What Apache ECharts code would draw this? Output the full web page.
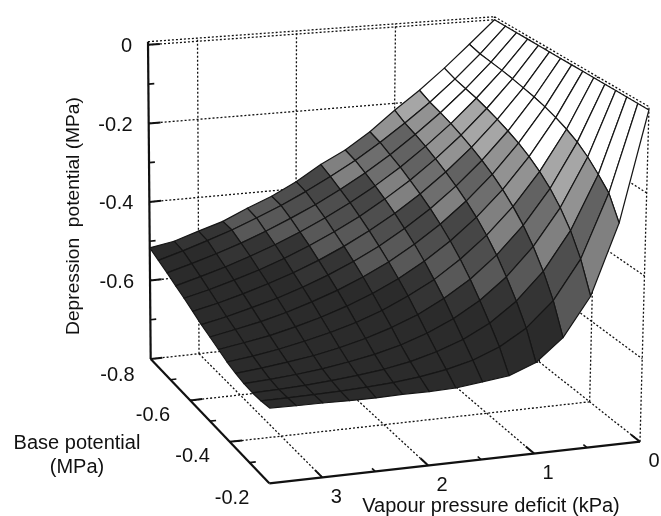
<!DOCTYPE html>
<html><head><meta charset="utf-8">
<style>html,body{margin:0;padding:0;background:#fff}#c{width:661px;height:516px}</style>
<script src="https://cdn.jsdelivr.net/npm/echarts@6/dist/echarts.min.js"></script>
</head><body><div id="c"></div>
<script>
const vpdSamples=[0,0.25,0.5,0.75,1,1.25,1.5,1.75,2,2.25,2.5,2.75,3,3.25,3.5];
const baseSamples=[-0.8,-0.757,-0.714,-0.671,-0.629,-0.586,-0.543,-0.5,-0.457,-0.414,-0.371,-0.329,-0.286,-0.243,-0.2];
const depression=[
[0,0,0,0,0,0,0,0,0,0,0,0,0,0,0],
[-.060,-.068,-.072,-.076,-.081,-.087,-.093,-.101,-.111,-.123,-.138,-.158,-.184,-.212,-.267],
[-.118,-.129,-.136,-.143,-.152,-.162,-.174,-.187,-.203,-.223,-.247,-.277,-.315,-.366,-.437],
[-.171,-.184,-.193,-.203,-.215,-.228,-.243,-.260,-.280,-.304,-.332,-.366,-.408,-.460,-.530],
[-.218,-.233,-.244,-.256,-.270,-.285,-.302,-.321,-.343,-.369,-.399,-.434,-.474,-.520,-.583],
[-.269,-.278,-.291,-.304,-.319,-.335,-.353,-.373,-.396,-.422,-.452,-.485,-.521,-.559,-.608],
[-.311,-.319,-.332,-.346,-.361,-.378,-.397,-.417,-.440,-.466,-.493,-.523,-.554,-.584,-.616],
[-.343,-.355,-.369,-.383,-.399,-.416,-.435,-.455,-.477,-.500,-.526,-.552,-.577,-.600,-.624],
[-.382,-.388,-.402,-.416,-.432,-.449,-.467,-.486,-.507,-.529,-.551,-.574,-.594,-.611,-.626],
[-.414,-.418,-.431,-.446,-.461,-.478,-.495,-.513,-.532,-.552,-.571,-.590,-.606,-.618,-.626],
[-.439,-.444,-.458,-.472,-.487,-.503,-.519,-.535,-.553,-.570,-.587,-.602,-.614,-.622,-.628],
[-.467,-.469,-.482,-.495,-.510,-.524,-.540,-.555,-.570,-.585,-.600,-.612,-.620,-.625,-.628],
[-.486,-.490,-.503,-.516,-.529,-.543,-.557,-.571,-.585,-.598,-.609,-.619,-.625,-.627,-.627],
[-.506,-.510,-.522,-.534,-.547,-.560,-.573,-.584,-.596,-.608,-.617,-.624,-.628,-.628,-.627],
[-.517,-.528,-.539,-.551,-.562,-.574,-.586,-.596,-.606,-.616,-.623,-.628,-.630,-.629,-.626]
];
const vpdTicks=[0,1,2,3];
const vpdMinor=[0.5,1.5,2.5];
const baseTicks=[-0.6,-0.4,-0.2];
const baseMinor=[-0.7,-0.5,-0.3];
const zTicks=[0,-0.2,-0.4,-0.6,-0.8];
const zMinor=[-0.1,-0.3,-0.5,-0.7];
const zBands=[-0.17,-0.21,-0.255,-0.30,-0.32,-0.355,-0.385,-0.42,-0.465,-0.50];
const bandGrays=['#ffffff','#a6a6a6','#929292','#626262','#6e6e6e','#808080','#464646','#4e4e4e','#585858','#343434','#2b2b2b'];

const VMAX=3.5,BMIN=-0.8,BMAX=-0.2,ZMIN=-0.8,ZTOP=0.008;
const floorC={A:[150.7,359],B:[269.3,483.3],C:[640,441.7],D:[489,322]};
const topC={A:[148,41.7],B:[271,134],C:[649,106.7],D:[494.5,16.7]};
function bil(q,u,v,k){
  return (1-u)*(1-v)*q.D[k]+(1-u)*v*q.C[k]+u*(1-v)*q.A[k]+u*v*q.B[k];
}
function project(vpd,base,z){
  const u=vpd/VMAX,v=(base-BMIN)/(BMAX-BMIN),w=(z-ZMIN)/(ZTOP-ZMIN);
  return [0,1].map(k=>bil(floorC,u,v,k)*(1-w)+bil(topC,u,v,k)*w);
}
function grayOf(z){
  let i=0; while(i<zBands.length && z<zBands[i]) i++;
  return bandGrays[i];
}
// surface cells
const cells=[];
for(let i=vpdSamples.length-2;i>=0;i--)for(let j=0;j<baseSamples.length-1;j++)cells.push([i,j]);
cells.sort((a,b)=>(a[0]+a[1])-(b[0]+b[1]));
// dotted box lines
const dotted=[];
const seg=(p,q)=>dotted.push([...p,...q]);
[1,2,3].forEach(t=>{seg([t,BMIN,ZMIN],[t,BMIN,ZTOP]);seg([t,BMIN,ZMIN],[t,BMAX,ZMIN]);});
[-0.4,-0.6].forEach(b=>{seg([0,b,ZMIN],[0,b,ZTOP]);seg([VMAX,b,ZMIN],[0,b,ZMIN]);});
seg([0,BMIN,ZMIN],[0,BMIN,ZTOP]);seg([0,BMAX,ZMIN],[0,BMAX,ZTOP]);
seg([VMAX,BMIN,ZMIN],[0,BMIN,ZMIN]);seg([0,BMIN,ZMIN],[0,BMAX,ZMIN]);
[ZTOP,0,-0.2,-0.4,-0.6].forEach(z=>{seg([VMAX,BMIN,z],[0,BMIN,z]);seg([0,BMIN,z],[0,BMAX,z]);});
// solid axes and ticks
const solid=[];
const sol=(p,q,wd)=>solid.push([...p,...q,wd]);
sol([VMAX,BMIN,ZMIN],[VMAX,BMIN,ZTOP],2.2);
sol([VMAX,BMIN,ZMIN],[VMAX,BMAX,ZMIN],2.2);
sol([VMAX,BMAX,ZMIN],[0,BMAX,ZMIN],2.2);
zTicks.forEach(t=>sol([VMAX,BMIN,t],[VMAX-0.12,BMIN,t],2));
zMinor.forEach(t=>sol([VMAX,BMIN,t],[VMAX-0.06,BMIN,t],1.6));
baseTicks.slice(0,2).forEach(t=>sol([VMAX,t,ZMIN],[VMAX-0.12,t,ZMIN],2));
baseMinor.forEach(t=>sol([VMAX,t,ZMIN],[VMAX-0.06,t,ZMIN],1.6));
vpdTicks.forEach(t=>sol([t,BMAX,ZMIN],[t,BMAX-0.035,ZMIN],2));
vpdMinor.forEach(t=>sol([t,BMAX,ZMIN],[t,BMAX-0.015,ZMIN],1.6));
// tick labels
const FONT='Liberation Sans';
const labels=[];
zTicks.forEach(t=>{const p=project(VMAX,BMIN,t);labels.push([t===0?'0':t.toFixed(1),p[0]-16,p[1]+(t===ZMIN?16:2),'right']);});
baseTicks.forEach(t=>{const p=project(VMAX,t,ZMIN);labels.push([t.toFixed(1),p[0]-20,p[1]+15,'right']);});
vpdTicks.forEach(t=>{const p=project(t,BMAX,ZMIN);labels.push([String(t),p[0]+14,p[1]+20,'center']);});

function lineSeries(data,dash,z){
  return {type:'custom',coordinateSystem:'cartesian2d',silent:true,clip:false,z,data,
    renderItem(params,api){
      const d=data[params.dataIndex];
      const a=api.coord(project(d[0],d[1],d[2])),b=api.coord(project(d[3],d[4],d[5]));
      return {type:'line',shape:{x1:a[0],y1:a[1],x2:b[0],y2:b[1]},
        style:{stroke:'#111',lineWidth:dash?1.3:d[6],lineDash:dash?[2,2]:null,fill:null}};
    }};
}
const option={
  animation:false,backgroundColor:'#fff',
  grid:{left:0,right:0,top:0,bottom:0},
  xAxis:{type:'value',min:0,max:661,show:false},
  yAxis:{type:'value',min:0,max:516,inverse:true,show:false},
  series:[
    lineSeries(dotted,true,1),
    lineSeries(solid,false,2),
    {type:'custom',coordinateSystem:'cartesian2d',silent:true,clip:false,z:3,data:cells,
      renderItem(params,api){
        const [i,j]=cells[params.dataIndex];
        const nodes=[[i,j],[i+1,j],[i+1,j+1],[i,j+1]];
        const avg=nodes.reduce((s,n)=>s+depression[n[0]][n[1]],0)/4;
        const pts=nodes.map(n=>api.coord(project(vpdSamples[n[0]],baseSamples[n[1]],depression[n[0]][n[1]])));
        return {type:'polygon',shape:{points:pts},
          style:{fill:grayOf(avg),stroke:'#161616',lineWidth:1.2,lineJoin:'round'}};
      }},
    {type:'custom',coordinateSystem:'cartesian2d',silent:true,clip:false,z:4,data:labels,
      renderItem(params,api){
        const l=labels[params.dataIndex];
        const p=api.coord([l[1],l[2]]);
        return {type:'text',style:{text:l[0],x:p[0],y:p[1],align:l[3],verticalAlign:'middle',
          fill:'#111',font:'20px "'+FONT+'"'}};
      }}
  ],
  graphic:[
    {type:'text',x:491,y:506,style:{text:'Vapour pressure deficit (kPa)',align:'center',verticalAlign:'middle',fill:'#111',font:'20px "'+FONT+'"'}},
    {type:'text',x:74,y:216,rotation:Math.PI/2,style:{text:'Depression  potential (MPa)',align:'center',verticalAlign:'middle',fill:'#111',font:'19.2px "'+FONT+'"'}},
    {type:'text',x:77,y:443,style:{text:'Base potential',align:'center',verticalAlign:'middle',fill:'#111',font:'20px "'+FONT+'"'}},
    {type:'text',x:77,y:467,style:{text:'(MPa)',align:'center',verticalAlign:'middle',fill:'#111',font:'20px "'+FONT+'"'}}
  ]
};
const chart=echarts.init(document.getElementById('c'),null,{renderer:'canvas'});
chart.setOption(option);
</script></body></html>
